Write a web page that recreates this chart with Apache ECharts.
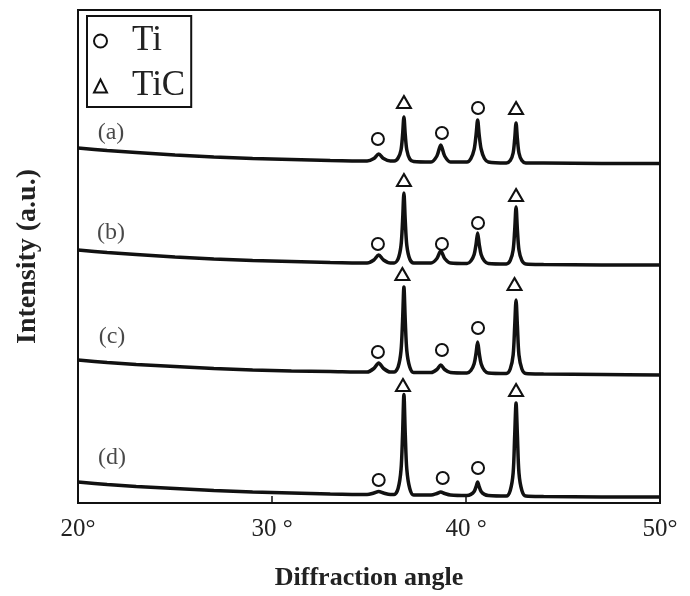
<!DOCTYPE html>
<html>
<head>
<meta charset="utf-8">
<script src="https://cdn.jsdelivr.net/npm/echarts@6/dist/echarts.min.js"></script>
<style>
  html, body { margin: 0; padding: 0; background: #fff; }
  #main { width: 690px; height: 596px; }
</style>
</head>
<body>
<div id="main"></div>
<script>
// 衍射角 (x) 和四条曲线的强度，单位随意
var angles = [20, 21.5, 23, 25, 27, 29, 31, 33,
  34.9, 35.25, 35.5, 35.75, 36.1,
  36.3, 36.5, 36.65, 36.73, 36.8, 36.87, 36.95, 37.1, 37.3,
  38.2, 38.5, 38.7, 38.9, 39.2,
  40.05, 40.25, 40.42, 40.52, 40.6, 40.68, 40.78, 40.95, 41.15,
  42.08, 42.28, 42.43, 42.51, 42.58, 42.65, 42.73, 42.88, 43.08,
  44, 47, 50];

var curveA = [355, 352.5, 350.5, 348, 346, 344.5, 343.5, 342.5,
  342, 344.5, 349, 344.5, 342,
  342, 345, 353, 368, 386, 368, 353, 344, 341.5,
  341, 347, 358, 347, 341,
  341, 344.4, 353.6, 368.3, 383, 368, 354, 344.5, 341,
  340, 342.4, 350, 364, 380, 364, 350, 342.4, 340,
  340, 339.5, 339.5];

var curveB = [253, 250.5, 248.5, 246, 244, 242.5, 241.5, 240.5,
  240, 243, 248, 243, 240,
  240, 244.2, 257.5, 282, 310, 282, 257.5, 244, 240,
  240, 244.5, 252, 244.5, 240,
  239.5, 242, 248.5, 259, 270, 259, 248.5, 242, 239.5,
  239, 242.4, 253, 273, 296, 273, 253, 242.4, 239,
  238.5, 238, 238];

var curveC = [143, 140.5, 138.5, 136.5, 134.5, 133, 132, 131.5,
  131, 134.5, 140, 134.5, 131,
  131, 136, 152, 182, 216, 182, 152, 136, 130.5,
  130.5, 133.5, 138, 133.5, 130.5,
  130, 132.5, 139.3, 150, 161, 150, 139.3, 132.5, 130,
  129.5, 134, 148, 177, 203, 177, 148, 134, 129.5,
  129, 128.5, 128];

var curveD = [21, 18.5, 16.5, 14.5, 12.5, 11, 10, 9,
  8.5, 10, 11.5, 10, 8.5,
  8.5, 14.5, 33.5, 68.5, 108.5, 68.5, 33.5, 14.5, 8,
  8, 9.5, 11, 9.5, 8,
  7.5, 8.6, 11.5, 16.3, 21, 16.3, 11.5, 8.6, 7.5,
  7, 12.6, 30, 67.5, 100, 67.5, 30, 12.6, 7,
  6.5, 6, 6];

var curveNames = ['(a)', '(b)', '(c)', '(d)'];

// 峰上方的标记  ○ Ti  △ TiC
var tiMarks = [[35.46, 364], [38.76, 370], [40.62, 395],
  [35.46, 259], [38.76, 259], [40.62, 280],
  [35.46, 151], [38.76, 153], [40.62, 175],
  [35.5, 23], [38.8, 25], [40.62, 35]];
var ticMarks = [[36.8, 401], [42.58, 395],
  [36.8, 323], [42.58, 308],
  [36.72, 229], [42.5, 219],
  [36.75, 118], [42.58, 113]];

var xTicks = [20, 30, 40, 50];
var xTickLabels = ['20°', '30 °', '40 °', '50°'];

var serif = "'Liberation Serif', 'Times New Roman', serif";

function pairs(ys) {
  return angles.map(function (a, i) { return [a, ys[i]]; });
}

var curves = [curveA, curveB, curveC, curveD];
// 标签偏移 (a)(b)(c)(d)
var labelOffsets = [[33, -15], [33, -17], [34, -23], [34, -24]];

var series = [];
curves.forEach(function (c, k) {
  series.push({
    type: 'line',
    data: pairs(c),
    smooth: 0.3,
    showSymbol: false,
    lineStyle: { color: '#111', width: 3.5 },
    silent: true
  });
});

series.push({
  type: 'scatter',
  data: curves.map(function (c, k) { return [angles[0], c[0]]; }),
  symbolSize: 0,
  label: {
    show: true,
    position: 'inside',
    formatter: function (p) { return curveNames[p.dataIndex]; },
    color: '#1a1a1a',
    fontFamily: serif,
    fontSize: 24
  },
  labelLayout: function (p) {
    var o = labelOffsets[p.dataIndex];
    return { dx: o[0], dy: o[1] };
  }
});

series.push({
  name: 'Ti',
  type: 'scatter',
  data: tiMarks,
  symbol: 'circle',
  symbolSize: 12,
  itemStyle: { color: '#fff', borderColor: '#111', borderWidth: 2, opacity: 1 }
});
series.push({
  name: 'TiC',
  type: 'scatter',
  data: ticMarks,
  symbol: 'triangle',
  symbolSize: [14, 12],
  itemStyle: { color: '#fff', borderColor: '#111', borderWidth: 2, opacity: 1 }
});

var chart = echarts.init(document.getElementById('main'));
chart.setOption({
  animation: false,
  backgroundColor: '#fff',
  grid: {
    left: 78, right: 30, top: 10, bottom: 93,
    show: true, borderColor: '#111', borderWidth: 2
  },
  legend: {
    data: ['Ti', 'TiC'],
    orient: 'vertical',
    left: 87, top: 16,
    padding: [7, 6, 3, 6],
    itemGap: 9,
    itemWidth: 13, itemHeight: 13,
    borderColor: '#111', borderWidth: 2,
    backgroundColor: '#fff',
    textStyle: { fontFamily: serif, fontSize: 35, lineHeight: 36, color: '#222', padding: [0, 0, 0, 20] }
  },
  xAxis: {
    type: 'value',
    min: 20, max: 50, interval: 10,
    name: 'Diffraction angle',
    nameLocation: 'middle',
    nameGap: 62,
    nameTextStyle: { fontFamily: serif, fontWeight: 'bold', fontSize: 26, color: '#222' },
    axisLine: { show: true, lineStyle: { color: '#111', width: 2 } },
    axisTick: { show: true, inside: true, length: 7, lineStyle: { color: '#111', width: 1.5 } },
    axisLabel: {
      margin: 14,
      fontFamily: serif, fontSize: 25, color: '#222',
      formatter: function (v) { return xTickLabels[xTicks.indexOf(v)]; }
    },
    splitLine: { show: false }
  },
  yAxis: {
    type: 'value',
    min: 0, max: 493,
    name: 'Intensity (a.u.)',
    nameLocation: 'middle',
    nameGap: 36,
    nameTextStyle: { fontFamily: serif, fontWeight: 'bold', fontSize: 28, color: '#222' },
    axisLine: { show: true, lineStyle: { color: '#111', width: 2 } },
    axisTick: { show: false },
    axisLabel: { show: false },
    splitLine: { show: false }
  },
  series: series
});
</script>
</body>
</html>
